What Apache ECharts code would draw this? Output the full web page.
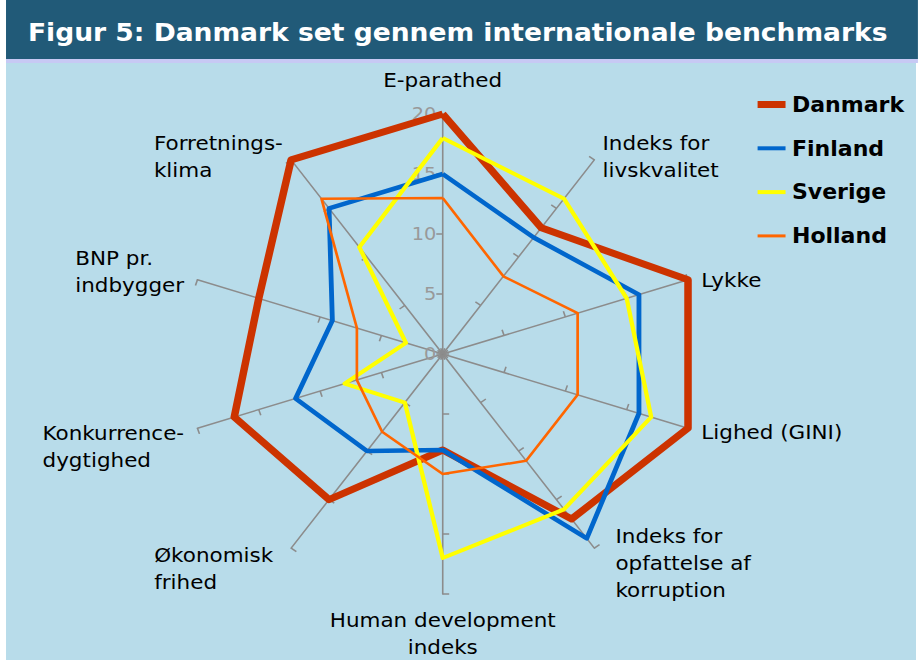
<!DOCTYPE html>
<html>
<head>
<meta charset="utf-8">
<script src="https://cdn.jsdelivr.net/npm/echarts@6/dist/echarts.min.js"></script>
<style>
  html, body { margin: 0; padding: 0; background: #fff; overflow: hidden; }
  /* originalen er strakt lidt i bredden, derfor scaleX */
  #chart { width: 858px; height: 660px; transform: scaleX(1.0746); transform-origin: 0 0; }
</style>
</head>
<body>
<div id="chart"></div>
<script>
// akser (med uret fra toppen)
var axisNames = ["E-parathed", "Indeks for\nlivskvalitet", "Lykke", "Lighed (GINI)",
  "Indeks for\nopfattelse af\nkorruption", "Human development\nindeks", "Økonomisk\nfrihed",
  "Konkurrence-\ndygtighed", "BNP pr.\nindbygger", "Forretnings-\nklima"];
var tickValues = [0, 5, 10, 15, 20];

var danmark = [20, 13, 20, 20, 17, 8, 15, 17, 15, 20];
var finland = [15, 12, 16, 16, 19, 8, 10, 12, 9, 15];
var sverige = [18, 16, 15, 17, 16, 17, 5, 8, 3, 11];
var holland = [13, 8, 11, 11, 11, 10, 8, 7, 7, 16];

var countries = ["Danmark", "Finland", "Sverige", "Holland"];
var colors = ["#cc3300", "#0066cc", "#ffff00", "#ff6600"];
var widths = [7, 4.5, 4, 2.5];

// finjustering af aksenavnenes placering (Excel placerer dem lidt anderledes)
var nameShiftTop = [0, 14, 8, 0, 10, 0, 20, 30, 0, 14];
var nameShiftBottom = [7, 0, 0, 0, 0, 0, 0, 0, 8, 0];
var namePadLeft = [0, 0, 0, 0, 12, 0, 0, 0, 0, 0];
var namePadRight = [0, 0, 0, 0, 0, 0, 9, 0, 0, 0];

// echarts lægger akserne mod uret -> vend rækkefølgen efter den første
function reorder (arr) {
  var out = [arr[0]];
  for (var i = arr.length - 1; i > 0; i--) {
    out.push(arr[i]);
  }
  return out;
}

var indicators = reorder(axisNames).map(function (name, i) {
  var ind = { name: name, min: 0, max: tickValues[tickValues.length - 1] };
  if (i === 0) {
    ind.axisLabel = { show: true, color: "#999999", fontSize: 18, fontFamily: "DejaVu Sans", margin: 6 };
  }
  return ind;
});

var allData = [danmark, finland, sverige, holland];
var series = [{
  type: "radar",
  symbol: "none",
  data: allData.map(function (vals, i) {
    return {
      name: countries[i],
      value: reorder(vals),
      lineStyle: { color: colors[i], width: widths[i] },
      itemStyle: { color: colors[i] }
    };
  })
}];

function legendIcon (h) {
  var y0 = (20 - h) / 2;
  return "path://M0,0M26,20M0," + y0 + "H26V" + (y0 + h) + "H0Z";
}

var nameFont = { color: "#000", fontSize: 20, fontFamily: "DejaVu Sans", lineHeight: 27 };
var nameRich = {};
for (var k = 0; k < axisNames.length; k++) {
  nameRich["n" + k] = Object.assign({
    align: k === 5 ? "center" : "left",
    padding: [0, namePadRight[k], 0, namePadLeft[k]]
  }, nameFont);
  nameRich["t" + k] = { fontSize: 1, lineHeight: nameShiftTop[k] || 1 };
  nameRich["b" + k] = { fontSize: 1, lineHeight: nameShiftBottom[k] || 1 };
}

// navne venstrestillet linje for linje (midterstillet for aksen i bunden)
function nameFormatter (name) {
  var idx = axisNames.indexOf(name);
  var lines = name.split("\n").map(function (s) {
    return "{n" + idx + "|" + s + "}";
  });
  if (nameShiftTop[idx]) lines.unshift("{t" + idx + "|\u00a0}");
  if (nameShiftBottom[idx]) lines.push("{b" + idx + "|\u00a0}");
  return lines.join("\n");
}

var chart = echarts.init(document.getElementById("chart"), null, { renderer: "svg" });
chart.setOption({
  backgroundColor: "#ffffff",
  animation: false,
  graphic: [
    { type: "rect", shape: { x: 5.6, y: 0, width: 848.6, height: 59 }, style: { fill: "#215a78" }, z: -10 },
    { type: "rect", shape: { x: 5.6, y: 59, width: 848.6, height: 4 }, style: { fill: "#c7c9f4" }, z: -10 },
    { type: "rect", shape: { x: 5.6, y: 63, width: 846.8, height: 597 }, style: { fill: "#b8dcea" }, z: -10 }
  ],
  title: {
    text: "Figur 5: Danmark set gennem internationale benchmarks",
    left: 21,
    top: 15,
    textStyle: { color: "#ffffff", fontSize: 24.7, fontWeight: "bold", fontFamily: "DejaVu Sans" }
  },
  legend: {
    orient: "vertical",
    left: 700,
    top: 89,
    itemWidth: 26,
    itemHeight: 20,
    itemGap: 22.8,
    textStyle: { color: "#000", fontSize: 20.5, fontWeight: "bold", fontFamily: "DejaVu Sans", padding: [0, 0, 0, 1] },
    data: countries.map(function (c, i) {
      return { name: c, icon: legendIcon(i === 0 ? 7 : (i === 3 ? 3 : 4)) };
    })
  },
  radar: {
    center: [412, 354],
    radius: 240,
    startAngle: 90,
    shape: "polygon",
    splitNumber: 4,
    indicator: indicators,
    axisName: {
      formatter: nameFormatter,
      color: "#000", fontSize: 20, fontFamily: "DejaVu Sans", lineHeight: 27,
      rich: nameRich
    },
    nameGap: 13,
    axisLine: { lineStyle: { color: "#8c8c8c", width: 1.5 } },
    axisTick: { show: true, length: 6, lineStyle: { color: "#8c8c8c", width: 1.5 } },
    axisLabel: { show: false },
    splitLine: { show: false },
    splitArea: { show: false }
  },
  series: series
});
</script>
</body>
</html>
